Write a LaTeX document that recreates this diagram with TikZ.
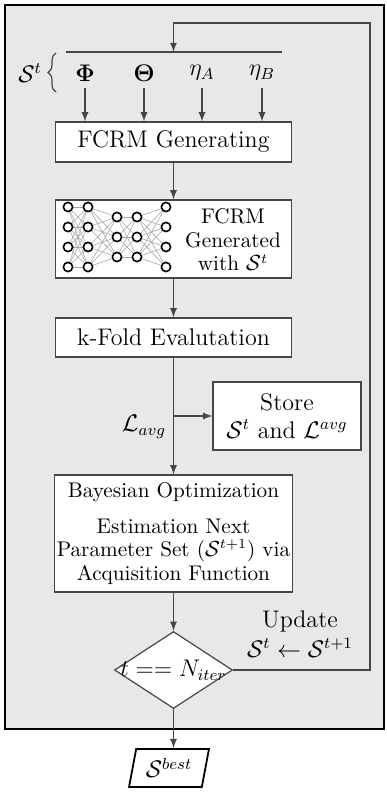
\documentclass[tikz,border=0pt]{standalone}
\usepackage{amsmath}
\usepackage{amssymb}
\usetikzlibrary{shapes.geometric,decorations.pathreplacing}
\definecolor{panelgray}{RGB}{232,232,232}
\definecolor{linegray}{RGB}{70,70,70}
\tikzset{
  block/.style={draw=linegray, fill=white, line width=0.6pt, inner sep=2pt, minimum width=118pt},
  conn/.style={draw=linegray, line width=0.6pt},
  unit/.style={circle, draw=black, fill=white, line width=0.8pt, inner sep=0pt, minimum size=4.6pt},
  edge/.style={draw=black!35, line width=0.3pt},
  decision/.style={diamond, draw=linegray, fill=white, line width=0.6pt, inner sep=0pt, minimum width=59pt, minimum height=38.5pt},
  result/.style={trapezium, trapezium left angle=77, trapezium right angle=103, draw=black, fill=white, line width=0.9pt, inner sep=1pt, minimum width=40pt, minimum height=19pt, trapezium stretches=true},
  smalltxt/.style={font=\fontsize{10.6}{11.8}\selectfont}
}

\begin{document}
\begin{tikzpicture}[x=0.5pt, y=-0.5pt, >=latex, every node/.style={font=\large}]
\useasboundingbox (0,0) rectangle (386,792);
% panel of the search loop
\draw[line width=1pt, fill=panelgray] (5,5) rectangle (384,729);

% parameter set S^t
\node (st) at (30,73) {$\mathcal{S}^t$};
\node (phi) at (85,73) {$\mathbf{\Phi}$};
\node (theta) at (144,73) {$\mathbf{\Theta}$};
\node (etaA) at (202,73) {$\eta_A$};
\node (etaB) at (262,73) {$\eta_B$};
\draw[conn, decorate, decoration={brace, amplitude=4pt}] (56,92) -- (56,53);
\coordinate (busL) at (66,52);
\coordinate (busR) at (282,52);
\coordinate (busIn) at (173.5,52);
\draw[conn] (busL) -- (busR);

\node[block, minimum height=20pt] (gen) at (173.5,142) {FCRM Generating};
\foreach \p in {phi,theta,etaA,etaB}
  \draw[conn,->] (\p) -- (\p |- gen.north);

% generated network
\node[block, minimum height=39pt] (net) at (173.5,239) {};
\node[smalltxt, align=center] (nettxt) at (233,240) {FCRM\\Generated\\with $\mathcal{S}^t$};
\foreach \c/\x/\n in {1/68/4,2/88/4,3/117/3,4/137/3,5/166/4}
  \foreach \i in {1,...,\n}
    \coordinate (u\c-\i) at (\x,{207+(4-\n)*10+20*(\i-1)});
\foreach \a/\na/\b/\nb in {1/4/2/4,2/4/3/3,3/3/4/3,4/3/5/4}
  \foreach \i in {1,...,\na}
    \foreach \j in {1,...,\nb}
      \draw[edge] (u\a-\i) -- (u\b-\j);
\foreach \c/\n in {1/4,2/4,3/3,4/3,5/4}
  \foreach \i in {1,...,\n}
    \node[unit] (n\c-\i) at (u\c-\i) {};

\node[block, minimum height=19.5pt] (kfold) at (173.5,337.5) {k-Fold Evalutation};
\coordinate (split) at (173.5,416);
\node[block, minimum width=74pt, minimum height=34pt, align=center] (store) at (287,416) {Store\\$\mathcal{S}^t$ and $\mathcal{L}^{avg}$};
\node (lavg) at (144,427) {$\mathcal{L}_{avg}$};

\node[block, smalltxt, minimum height=58.5pt, inner sep=1pt, align=center] (bayes) at (173.5,533.5)
  {Bayesian Optimization\\[6pt] Estimation Next\\Parameter Set ($\mathcal{S}^{t+1}$) via\\Acquisition Function};

\node[decision, label={center:$t == N_{iter}$}] (dec) at (173.5,670) {};
\node[align=center] (upd) at (300,634) {Update\\[1pt]$\mathcal{S}^t \leftarrow \mathcal{S}^{t+1}$};
\node[result] (best) at (169,768) {$\mathcal{S}^{best}$};

\draw[conn,->] (gen) -- (net);
\draw[conn,->] (net) -- (kfold);
\draw[conn] (kfold) -- (split);
\draw[conn,->] (split) -- (bayes);
\draw[conn,->] (split) -- (store);
\draw[conn,->] (bayes) -- (dec);
\draw[conn,->] (dec.south) -- (dec.south |- best.north);
\coordinate (fbTop) at (370,23);
\draw[conn,->] (dec.east) -| (fbTop) -| (busIn);
\end{tikzpicture}
\end{document}
